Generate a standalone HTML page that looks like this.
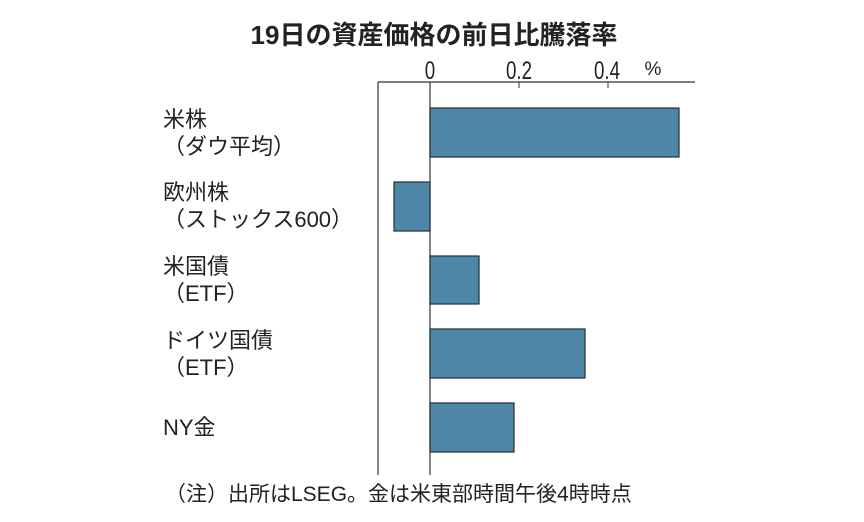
<!DOCTYPE html>
<html><head><meta charset="utf-8"><style>
body{margin:0;background:#fff;}
svg text{font-family:"Liberation Sans","Noto Sans CJK JP",sans-serif;fill:#222;}
</style></head><body>
<svg width="864" height="517" xmlns="http://www.w3.org/2000/svg">
<rect width="864" height="517" fill="#fff"/>
<text x="434" y="44" font-size="26" font-weight="bold" text-anchor="middle">19日の資産価格の前日比騰落率</text>
<g font-size="25" text-anchor="middle">
<text x="430" y="79" transform="translate(430 0) scale(0.75 1) translate(-430 0)">0</text>
<text x="519" y="79" transform="translate(519 0) scale(0.75 1) translate(-519 0)">0.2</text>
<text x="607" y="79" transform="translate(607 0) scale(0.75 1) translate(-607 0)">0.4</text>
<text x="653" y="75" font-size="19">%</text>
</g>
<line x1="378" y1="82" x2="695" y2="82" stroke="#333" stroke-width="1.2"/>
<line x1="378" y1="82" x2="378" y2="475" stroke="#333" stroke-width="1.2"/>
<line x1="430" y1="82" x2="430" y2="475" stroke="#333" stroke-width="1.2"/>
<line x1="519" y1="82" x2="519" y2="88" stroke="#333"/>
<line x1="608" y1="82" x2="608" y2="88" stroke="#333"/>
<g fill="#4f87a9" stroke="#1e2f3c" stroke-width="1.2">
<rect x="430" y="108" width="249" height="49"/>
<rect x="394" y="182" width="36" height="49"/>
<rect x="430" y="256" width="49" height="48"/>
<rect x="430" y="329" width="155" height="49"/>
<rect x="430" y="403" width="84" height="49"/>
</g>
<g font-size="22">
<text x="163" y="127">米株</text>
<text x="163" y="154">（ダウ平均）</text>
<text x="163" y="200">欧州株</text>
<text x="163" y="227">（ストックス600）</text>
<text x="163" y="274">米国債</text>
<text x="163" y="301">（ETF）</text>
<text x="163" y="348">ドイツ国債</text>
<text x="163" y="375">（ETF）</text>
<text x="163" y="435">NY金</text>
</g>
<text x="165" y="501" font-size="21">（注）出所はLSEG。金は米東部時間午後4時時点</text>
</svg>
</body></html>
